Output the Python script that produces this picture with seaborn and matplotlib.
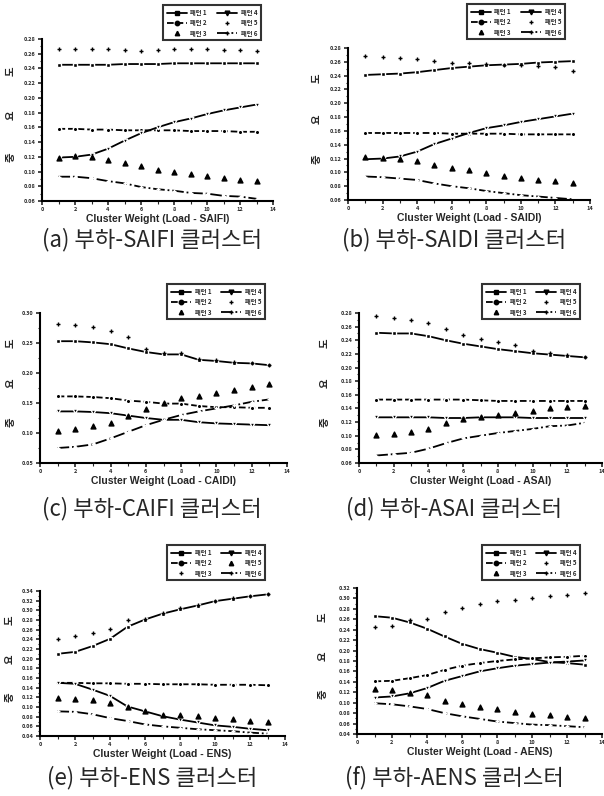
import numpy as np
import matplotlib
matplotlib.use('Agg')
import matplotlib.pyplot as plt
import seaborn as sns
from matplotlib.lines import Line2D
from matplotlib.ticker import MultipleLocator, FormatStrFormatter

sns.set_theme(style='ticks')
plt.rcParams['font.family'] = ['Noto Sans CJK KR', 'DejaVu Sans']

# 데이터
x = list(range(1, 14))
names = ['패턴 1', '패턴 2', '패턴 3', '패턴 4', '패턴 5', '패턴 6']

saifi = {
    '패턴 1': [0.245, 0.245, 0.245, 0.245, 0.246, 0.246, 0.246, 0.247, 0.247, 0.247, 0.247, 0.247, 0.247],
    '패턴 2': [0.158, 0.158, 0.157, 0.157, 0.156, 0.156, 0.156, 0.156, 0.155, 0.155, 0.155, 0.154, 0.154],
    '패턴 3': [0.119, 0.121, 0.120, 0.116, 0.111, 0.107, 0.102, 0.099, 0.096, 0.094, 0.091, 0.089, 0.087],
    '패턴 4': [0.119, 0.120, 0.123, 0.131, 0.142, 0.152, 0.160, 0.167, 0.172, 0.178, 0.183, 0.187, 0.191],
    '패턴 5': [0.267, 0.267, 0.266, 0.266, 0.265, 0.264, 0.265, 0.266, 0.266, 0.266, 0.265, 0.265, 0.264],
    '패턴 6': [0.093, 0.093, 0.091, 0.087, 0.084, 0.079, 0.076, 0.074, 0.071, 0.070, 0.067, 0.066, 0.063],
}
saidi = {
    '패턴 1': [0.241, 0.242, 0.243, 0.245, 0.248, 0.251, 0.253, 0.255, 0.256, 0.257, 0.259, 0.260, 0.261],
    '패턴 2': [0.157, 0.157, 0.157, 0.157, 0.157, 0.156, 0.156, 0.156, 0.156, 0.155, 0.155, 0.155, 0.155],
    '패턴 3': [0.122, 0.121, 0.119, 0.116, 0.111, 0.106, 0.103, 0.099, 0.095, 0.092, 0.089, 0.088, 0.085],
    '패턴 4': [0.119, 0.120, 0.123, 0.130, 0.141, 0.149, 0.157, 0.164, 0.168, 0.173, 0.177, 0.181, 0.185],
    '패턴 5': [0.268, 0.267, 0.266, 0.264, 0.261, 0.259, 0.258, 0.257, 0.256, 0.255, 0.254, 0.252, 0.247],
    '패턴 6': [0.094, 0.093, 0.091, 0.089, 0.084, 0.080, 0.077, 0.073, 0.070, 0.067, 0.065, 0.063, 0.061],
}
caifi = {
    '패턴 1': [0.253, 0.253, 0.251, 0.248, 0.241, 0.235, 0.231, 0.231, 0.222, 0.220, 0.217, 0.216, 0.213],
    '패턴 2': [0.161, 0.161, 0.160, 0.158, 0.154, 0.152, 0.149, 0.149, 0.145, 0.143, 0.143, 0.142, 0.142],
    '패턴 3': [0.104, 0.107, 0.111, 0.117, 0.128, 0.140, 0.150, 0.158, 0.162, 0.167, 0.172, 0.176, 0.182],
    '패턴 4': [0.136, 0.136, 0.135, 0.133, 0.129, 0.125, 0.122, 0.122, 0.118, 0.116, 0.115, 0.114, 0.113],
    '패턴 5': [0.281, 0.280, 0.277, 0.270, 0.260, 0.240, 0.234, 0.233, 0.224, 0.222, 0.219, 0.217, 0.214],
    '패턴 6': [0.075, 0.077, 0.081, 0.091, 0.102, 0.113, 0.122, 0.130, 0.136, 0.141, 0.146, 0.152, 0.156],
}
asai = {
    '패턴 1': [0.251, 0.250, 0.250, 0.246, 0.240, 0.235, 0.231, 0.227, 0.224, 0.221, 0.219, 0.217, 0.215],
    '패턴 2': [0.153, 0.153, 0.153, 0.153, 0.153, 0.153, 0.152, 0.151, 0.151, 0.151, 0.151, 0.151, 0.151],
    '패턴 3': [0.101, 0.103, 0.105, 0.110, 0.119, 0.125, 0.128, 0.130, 0.133, 0.137, 0.140, 0.142, 0.143],
    '패턴 4': [0.127, 0.127, 0.127, 0.127, 0.126, 0.126, 0.127, 0.127, 0.127, 0.126, 0.126, 0.126, 0.126],
    '패턴 5': [0.276, 0.273, 0.270, 0.265, 0.256, 0.248, 0.242, 0.238, 0.233, 0.225, 0.222, 0.219, 0.216],
    '패턴 6': [0.071, 0.073, 0.075, 0.081, 0.089, 0.096, 0.100, 0.104, 0.107, 0.110, 0.114, 0.115, 0.119],
}
ens = {
    '패턴 1': [0.210, 0.214, 0.226, 0.241, 0.266, 0.281, 0.293, 0.302, 0.310, 0.319, 0.324, 0.329, 0.333],
    '패턴 2': [0.150, 0.150, 0.149, 0.149, 0.148, 0.148, 0.147, 0.147, 0.147, 0.146, 0.146, 0.146, 0.145],
    '패턴 3': [0.241, 0.246, 0.253, 0.262, 0.279, 0.283, 0.295, 0.304, 0.312, 0.320, 0.325, 0.330, 0.334],
    '패턴 4': [0.150, 0.148, 0.136, 0.123, 0.101, 0.091, 0.081, 0.074, 0.068, 0.062, 0.059, 0.055, 0.052],
    '패턴 5': [0.119, 0.117, 0.114, 0.108, 0.100, 0.092, 0.084, 0.083, 0.081, 0.077, 0.075, 0.071, 0.070],
    '패턴 6': [0.091, 0.090, 0.085, 0.077, 0.071, 0.064, 0.060, 0.057, 0.054, 0.052, 0.050, 0.047, 0.045],
}
aens = {
    '패턴 1': [0.266, 0.263, 0.254, 0.242, 0.227, 0.213, 0.203, 0.196, 0.188, 0.184, 0.178, 0.176, 0.173],
    '패턴 2': [0.141, 0.142, 0.147, 0.153, 0.163, 0.171, 0.176, 0.180, 0.183, 0.185, 0.187, 0.188, 0.190],
    '패턴 3': [0.126, 0.125, 0.118, 0.115, 0.104, 0.098, 0.092, 0.087, 0.082, 0.078, 0.076, 0.072, 0.071],
    '패턴 4': [0.110, 0.112, 0.118, 0.128, 0.142, 0.151, 0.160, 0.166, 0.171, 0.174, 0.177, 0.179, 0.181],
    '패턴 5': [0.246, 0.247, 0.258, 0.261, 0.274, 0.282, 0.290, 0.295, 0.297, 0.300, 0.304, 0.306, 0.311],
    '패턴 6': [0.099, 0.097, 0.093, 0.088, 0.080, 0.074, 0.069, 0.064, 0.061, 0.058, 0.057, 0.055, 0.053],
}

# 선 스타일 (ls=None 이면 마커만)
base_style = {
    '패턴 1': dict(ls='-', marker='s', ms=3.4),
    '패턴 2': dict(ls='--', marker='o', ms=3.2),
    '패턴 3': dict(ls=None, marker='^', ms=3.2),
    '패턴 4': dict(ls='-', marker='v', ms=3.4),
    '패턴 5': dict(ls=None, marker='+', ms=3.0),
    '패턴 6': dict(ls='-.', marker='+', ms=3.0),
}
ens_style = dict(base_style)
ens_style['패턴 3'] = dict(ls=None, marker='+', ms=3.0)
ens_style['패턴 5'] = dict(ls=None, marker='^', ms=3.2)

W, H = 604, 796
fig = plt.figure(figsize=(W / 100, H / 100), dpi=100)
fig.patch.set_facecolor('white')

# (데이터, 지표, 캡션, 축 픽셀, y범위, y간격, 범례 픽셀, 캡션 y, 캡션 x, y라벨 x, 스타일)
panels = [
    (saifi, 'SAIFI', '(a) 부하-SAIFI 클러스터', (42, 39, 273, 201), (0.06, 0.28), 0.02, (163, 5, 273, 50), 240, 152, 11, base_style),
    (saidi, 'SAIDI', '(b) 부하-SAIDI 클러스터', (348, 48, 590, 200), (0.06, 0.28), 0.02, (467, 4, 588, 62), 240, 454, 317, base_style),
    (caifi, 'CAIDI', '(c) 부하-CAIFI 클러스터', (40, 313, 287, 463), (0.05, 0.30), 0.05, (167, 284, 280, 329), 509, 152, 11, base_style),
    (asai, 'ASAI', '(d) 부하-ASAI 클러스터', (359, 313, 602, 463), (0.06, 0.28), 0.02, (482, 284, 590, 333), 509, 454, 325, base_style),
    (ens, 'ENS', '(e) 부하-ENS 클러스터', (40, 591, 285, 736), (0.04, 0.34), 0.02, (167, 545, 285, 590), 778, 152, 10, ens_style),
    (aens, 'AENS', '(f) 부하-AENS 클러스터', (357, 588, 602, 734), (0.04, 0.32), 0.02, (482, 545, 593, 590), 778, 454, 323, base_style),
]

for data, idx, cap, (l, t, r, b), ylim, ystep, (ll, lt, lr, lb), cap_y, cap_x, ylab_x, style in panels:
    ax = fig.add_axes([l / W, 1 - b / H, (r - l) / W, (b - t) / H])
    handles = []
    for name in names:
        st = style[name]
        if st['ls'] is None:
            sns.scatterplot(x=x, y=data[name], marker=st['marker'], color='black',
                            s=st['ms'] ** 2 * 1.2, linewidth=1.0, edgecolor='black', ax=ax, zorder=3)
            handles.append(Line2D([], [], ls='none', marker=st['marker'], color='black', ms=st['ms'], mew=1.0))
        else:
            sns.lineplot(x=x, y=data[name], color='black', linestyle=st['ls'], lw=1.3,
                         marker=st['marker'], ms=st['ms'], mew=1.0, ax=ax)
            handles.append(Line2D([], [], ls=st['ls'], marker=st['marker'], color='black',
                                  lw=1.3, ms=st['ms'], mew=1.0))
    ax.set_xlim(0, 14)
    ax.set_ylim(*ylim)
    ax.xaxis.set_major_locator(MultipleLocator(2))
    ax.xaxis.set_minor_locator(MultipleLocator(1))
    ax.yaxis.set_major_locator(MultipleLocator(ystep))
    ax.yaxis.set_minor_locator(MultipleLocator(ystep / 2))
    ax.yaxis.set_major_formatter(FormatStrFormatter('%.2f'))
    ax.tick_params(which='major', length=3, width=1.2, labelsize=4, pad=1.5)
    ax.tick_params(which='minor', length=1.8, width=0.8)
    for lab in ax.get_xticklabels() + ax.get_yticklabels():
        lab.set_fontweight('bold')
    sns.despine(ax=ax)
    for sp in ('left', 'bottom'):
        ax.spines[sp].set_linewidth(1.5)
        ax.spines[sp].set_color('black')
    ax.set_facecolor('none')
    ax.set_xlabel(f'Cluster Weight (Load - {idx})', fontsize=7.5, fontweight='bold',
                  family=['Liberation Sans', 'DejaVu Sans'], labelpad=1)
    ax.set_ylabel('')

    # 세로 라벨 중요도
    for ch, fy in zip(['중', '요', '도'], [0.27, 0.53, 0.80]):
        fig.text(ylab_x / W, 1 - (b - fy * (b - t)) / H, ch, rotation=90, fontsize=7.5,
                 fontweight='bold', ha='center', va='center')

    # 범례 박스
    leg = ax.legend(handles, names, ncol=2, loc='upper left',
                    bbox_to_anchor=(ll / W, 1 - lt / H), bbox_transform=fig.transFigure,
                    fontsize=4.5, frameon=True, fancybox=False, handlelength=3.2,
                    handletextpad=0.6, columnspacing=1.6, labelspacing=0.55,
                    borderpad=0.6, borderaxespad=0, prop={'size': 4.5, 'weight': 'bold'})
    leg.get_frame().set_edgecolor('black')
    leg.get_frame().set_linewidth(1.5)
    leg.set_zorder(5)

    fig.text(cap_x / W, 1 - cap_y / H, cap, fontsize=16, ha='center', va='center')

fig.savefig('out.png', dpi=100, facecolor='white')
